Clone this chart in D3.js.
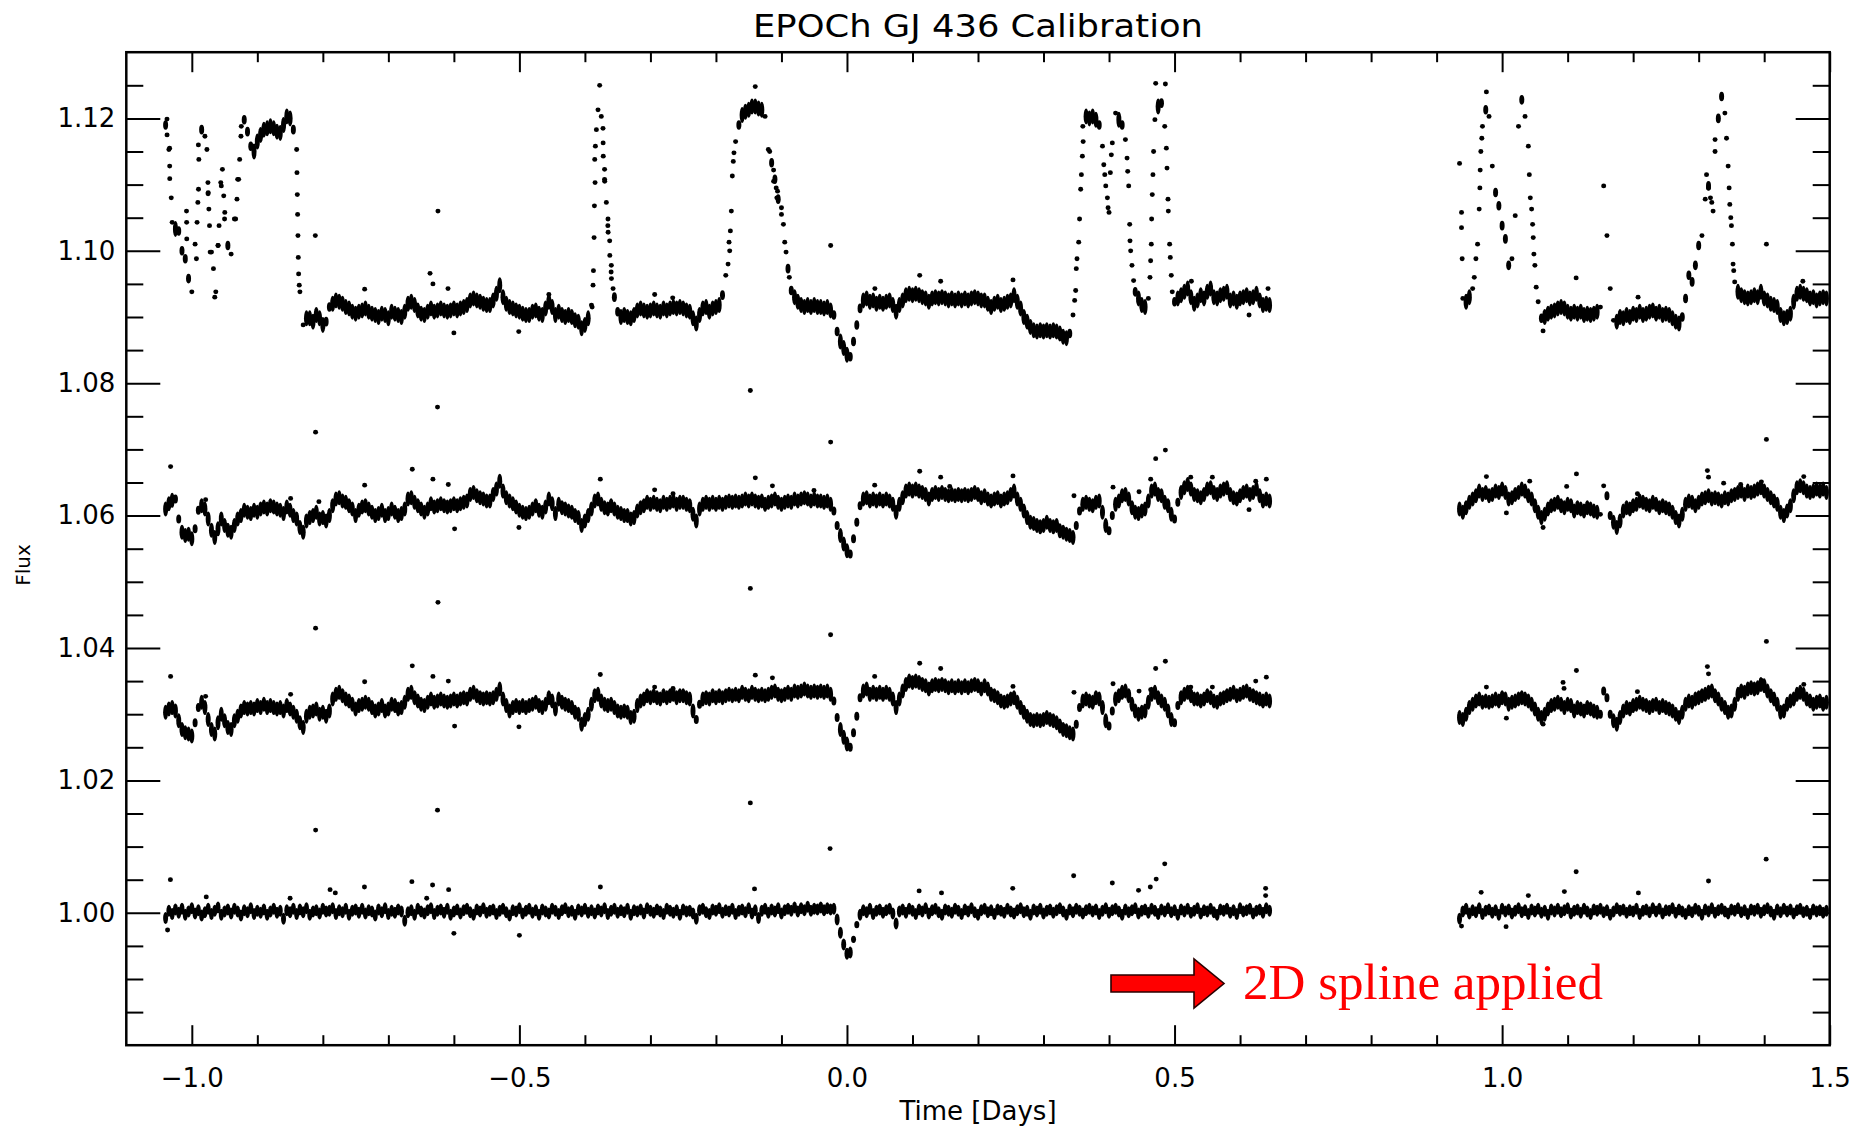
<!DOCTYPE html>
<html>
<head>
<meta charset="utf-8">
<script src="https://cdn.jsdelivr.net/npm/d3@7"></script>
<style>
  body { margin: 0; background: #fff; }
</style>
</head>
<body>
<div id="chart"></div>
<script>
// Light curves sampled every 0.005 d in two observing windows.
// Values are flux offsets in units of 1e-4 from each curve's baseline.
const step = 0.005;
const win1Start = -1.04;
const win2Start = 0.935;

const base1 = 1.09, base2 = 1.06, base3 = 1.03, base4 = 1.00;

// raw photometry (top curve)
const s1a = [
  290, 253, 143, 133, 130, 100, 88, 58, 38, 110,
  260, 283, 273, 188, 98, 30, 108, 198, 148, 108,
  95, 148, 208, 273, 298, 280, 258, 250, 265, 275,
  283, 285, 288, 285, 280, 278, 290, 303, 300, 283,
  253, 38, -12, -2, -2, -7, 3, -2, -12, -7,
  15, 20, 25, 23, 20, 15, 13, 8, 5, 8,
  10, 13, 8, 5, 3, 0, 5, 3, -2, 8,
  5, 3, 0, 8, 20, 23, 18, 10, 5, 3,
  8, 13, 8, 10, 13, 10, 8, 10, 13, 10,
  13, 15, 18, 25, 28, 25, 23, 20, 18, 18,
  25, 35, 48, 30, 20, 15, 13, 10, 8, 5,
  3, 3, 8, 10, 5, 3, 13, 23, 15, 3,
  8, 3, 0, 3, 0, -5, -7, -17, -12, -2,
  18, 238, 313, 303, 208, 138, 68, 30, 8, 0,
  3, 0, -2, 3, 10, 13, 10, 8, 10, 13,
  10, 8, 13, 10, 13, 15, 13, 15, 13, 10,
  8, -2, -10, 3, 13, 15, 8, 13, 15, 18,
  33, 63, 113, 213, 265, 290, 305, 310, 313, 318,
  318, 315, 313, 303, 253, 233, 208, 178, 155, 113,
  73, 40, 30, 23, 18, 15, 18, 15, 18, 15,
  15, 13, 15, 10, 3, -22, -37, -47, -57, -60,
  -37, -12, 13, 25, 28, 23, 25, 20, 23, 20,
  23, 25, 18, 8, 18, 25, 33, 35, 33, 35,
  33, 30, 28, 23, 28, 30, 28, 30, 28, 25,
  28, 25, 28, 25, 28, 25, 28, 30, 28, 25,
  25, 20, 15, 20, 23, 18, 20, 23, 25, 33,
  23, 13, 0, -7, -15, -20, -22, -20, -22, -20,
  -22, -20, -22, -25, -30, -32, -25, 3, 73, 148,
  288, 303, 300, 303, 298, 290, 258, 198, 158, 263,
  308, 298, 290, 268, 198, 78, 38, 28, 18, 15,
  28, 148, 298, 318, 323, 288, 178, 63, 23, 28,
  33, 38, 43, 30, 20, 25, 33, 28, 38, 43,
  30, 28, 33, 35, 38, 25, 28, 23, 28, 30,
  33, 28, 30, 35, 25, 18, 20, 18
];
const s1b = [
  232, 28, 23, 30, 43, 88, 163, 288, 313, 303,
  228, 188, 168, 138, 118, 78, 88, 153, 288, 328,
  303, 258, 163, 78, 23, -2, 0, 5, 8, 10,
  13, 15, 13, 8, 5, 8, 5, 8, 3, 5,
  3, 5, 8, 15, 198, 123, 43, -5, -7, 0,
  -2, 3, 0, 5, 3, 8, 3, 5, 8, 10,
  5, 8, 3, 5, 3, -2, -7, -10, 0, 28,
  63, 53, 78, 108, 123, 178, 198, 173, 268, 300,
  333, 308, 228, 138, 53, 38, 33, 30, 28, 30,
  33, 30, 38, 28, 25, 20, 18, 15, 3, -2,
  0, 5, 23, 35, 38, 35, 33, 28, 30, 25,
  28, 30, 28
];
// extra points of the top curve: outliers and fast excursions, [time, offset]
const out1 = [
  [-0.8115, 123], [-0.6243, 160], [-0.6364, 66], [-0.632, 50], [-0.609, 43], [-0.7362, 42],
  [-0.6, -24], [-0.501, -22], [-0.455, 34], [-0.3775, 350], [-0.0249, 108], [-0.14, 348],
  [-0.2935, 34], [-0.266, 29], [0.111, 63], [0.143, 54], [0.0426, 43], [0.2534, 56],
  [0.4712, 353], [0.486, 352], [0.6427, 43], [0.6137, 3], [0.5257, 54],
  [0.938, 158], [0.938, 135], [0.939, 88], [0.976, 340], [1.113, 59], [1.4034, 110],
  [1.459, 54], [1.0625, -21], [1.2075, 30],
  [-1.0379, 299], [-1.0378, 275], [-1.0339, 255], [-1.0338, 228], [-1.0337, 209], [-1.0314, 180],
  [-1.0081, 160], [-1.0079, 143], [-1.0077, 118], [-0.993, 88], [-0.992, 143], [-0.9908, 173],
  [-0.9898, 193], [-0.9893, 238], [-0.977, 253], [-0.9754, 203], [-0.9752, 186], [-0.974, 163],
  [-0.973, 138], [-0.972, 98], [-0.967, 73], [-0.9634, 38], [-0.9599, 108], [-0.9584, 138],
  [-0.9558, 203], [-0.9533, 223], [-0.9513, 183], [-0.9497, 158], [-0.9331, 148], [-0.9311, 178],
  [-0.9285, 208], [-0.927, 238], [-0.9245, 288],
  [-0.8395, 218], [-0.839, 185], [-0.8385, 155], [-0.838, 123], [-0.8375, 90], [-0.837, 65], [-0.836, 48],
  [-0.389, 15], [-0.3876, 48], [-0.387, 70], [-0.386, 120], [-0.3855, 168], [-0.3845, 203],
  [-0.384, 258], [-0.3825, 283], [-0.3724, 285], [-0.3722, 263], [-0.372, 243], [-0.37, 223],
  [-0.3698, 205], [-0.3673, 173], [-0.3648, 148], [-0.3646, 128], [-0.3622, 115], [-0.362, 93],
  [-0.3597, 78], [-0.3595, 58], [-0.357, 43],
  [-0.1815, 80], [-0.179, 100], [-0.178, 130], [-0.1765, 160], [-0.1735, 235], [-0.1725, 248],
  [-0.118, 250], [-0.112, 222], [-0.108, 195], [-0.106, 190], [-0.1, 165], [-0.097, 140],
  [-0.093, 98], [-0.088, 60], [-0.112, 205], [-0.107, 180],
  [0.3475, 25], [0.3491, 40], [0.3511, 88], [0.3537, 113], [0.3567, 193], [0.3578, 215],
  [0.3593, 243], [0.3605, 265], [0.392, 230], [0.3935, 215], [0.3975, 180], [0.3985, 165],
  [0.402, 218], [0.4035, 245], [0.4275, 240], [0.4285, 220], [0.4315, 140], [0.432, 115],
  [0.433, 100], [0.4375, 55], [0.4625, 60], [0.4635, 85], [0.4645, 110], [0.466, 185],
  [0.467, 215], [0.468, 250], [0.4875, 255], [0.4885, 225], [0.4905, 160], [0.4925, 110],
  [0.4935, 90], [0.4965, 38],
  [0.9575, 60], [0.9625, 110], [0.966, 195], [0.9665, 222], [0.9675, 250], [0.969, 270],
  [1.0415, 215], [1.043, 180], [1.0465, 140], [1.0475, 120], [1.0485, 95], [1.052, 45],
  [1.312, 215], [1.315, 195], [1.318, 180], [1.322, 160], [1.325, 250],
  [1.3425, 270], [1.3465, 195], [1.3475, 170], [1.349, 150], [1.3515, 110], [1.3525, 80], [1.3535, 70]
];

// second curve
const s2a = [
  10, 18, 23, 25, -5, -25, -30, -28, -35, -20,
  8, 15, 10, -5, -22, -33, -20, -5, -15, -22,
  -25, -15, -5, 0, 8, 5, 3, 8, 5, 10,
  13, 10, 15, 13, 10, 8, 3, 13, 8, 0,
  -5, -18, -25, -8, -3, 0, 5, -5, -3, -8,
  0, 15, 25, 27, 22, 20, 15, 10, 0, 8,
  13, 15, 10, 5, 0, 3, 8, 0, 3, 10,
  5, 0, 3, 10, 25, 27, 20, 15, 10, 5,
  10, 18, 13, 15, 18, 15, 13, 15, 18, 15,
  18, 20, 22, 32, 35, 30, 27, 25, 22, 22,
  32, 40, 52, 37, 27, 22, 18, 13, 8, 5,
  3, 5, 10, 15, 8, 5, 13, 25, 18, 3,
  17, 12, 10, 7, 5, 0, -3, -15, -8, 0,
  10, 22, 25, 17, 12, 10, 15, 10, 5, 3,
  0, 0, -5, -3, 7, 12, 15, 20, 17, 20,
  17, 15, 20, 17, 20, 22, 17, 20, 20, 17,
  15, 2, -8, 10, 17, 20, 17, 20, 17, 20,
  17, 20, 22, 20, 22, 20, 22, 25, 22, 25,
  22, 20, 22, 17, 20, 22, 25, 20, 17, 20,
  22, 20, 25, 22, 25, 27, 25, 22, 25, 22,
  22, 20, 22, 17, 7, -15, -30, -43, -53, -58,
  -35, -10, 15, 25, 27, 22, 25, 22, 25, 22,
  25, 22, 17, 5, 17, 27, 37, 40, 37, 40,
  37, 35, 32, 25, 32, 35, 32, 35, 32, 30,
  32, 30, 32, 30, 32, 30, 32, 35, 32, 27,
  30, 25, 22, 25, 27, 22, 25, 27, 32, 37,
  25, 17, 7, -3, -10, -12, -15, -17, -15, -10,
  -15, -17, -15, -23, -25, -28, -30, -33, -15, 7,
  17, 20, 17, 15, 20, 22, 5, -15, -23, 0,
  17, 22, 30, 32, 25, 12, 5, 3, 7, 10,
  22, 37, 40, 32, 30, 20, 15, 2, -5, 20,
  35, 42, 47, 40, 32, 30, 27, 32, 40, 42,
  35, 32, 37, 40, 42, 32, 27, 25, 30, 35,
  37, 32, 35, 40, 30, 22, 25, 22
];
const s2b = [
  10, 5, 12, 20, 25, 30, 37, 32, 35, 30,
  32, 37, 35, 40, 35, 25, 27, 32, 35, 40,
  37, 30, 25, 15, 5, -3, 2, 10, 15, 17,
  20, 15, 12, 17, 15, 7, 12, 10, 7, 12,
  10, 7, 5, 2, 45, 30, 0, -10, -18, -8,
  7, 12, 10, 15, 17, 22, 20, 17, 15, 20,
  17, 12, 15, 12, 10, 5, -3, -8, 2, 17,
  22, 20, 15, 20, 25, 27, 30, 25, 27, 25,
  22, 27, 25, 30, 32, 35, 37, 32, 37, 35,
  37, 40, 42, 37, 32, 27, 22, 17, 5, 0,
  7, 15, 30, 42, 45, 42, 37, 35, 37, 40,
  37, 40, 35
];
const out2 = [
  [-1.0324, 74], [-0.8111, 126], [-0.9789, 24], [-0.8492, 26], [-0.806, 21], [-0.7362, 46],
  [-0.6635, 70], [-0.632, 55], [-0.6085, 47], [-0.5989, -20], [-0.5007, -18], [-0.625, 164],
  [-0.0249, 111], [-0.3765, 55], [-0.1399, 57], [-0.2936, 39], [-0.2655, 33], [-0.1138, 45],
  [-0.0504, 38], [0.111, 67], [0.143, 58], [0.0423, 46], [0.1568, 44], [-0.1475, 189],
  [0.486, 99], [0.4712, 86], [0.2534, 60], [0.3465, 30], [0.4061, 43], [0.4636, 55],
  [0.4458, 36], [0.5247, 58], [0.5577, 58], [0.6239, 52], [0.6401, 55], [0.6137, 9],
  [1.4034, 115], [1.1134, 63], [1.3133, 68], [1.315, 58], [0.976, 59], [1.0421, 52],
  [1.0985, 44], [1.4604, 59], [1.0065, 4], [1.0625, -18], [1.3381, 49], [1.3641, 47],
  [1.3957, 51], [1.2065, 33]
];

// third curve
const s3a = [
  3, 8, 10, 5, -10, -23, -28, -30, -33, -13,
  10, 18, 10, -8, -23, -30, -13, 0, -10, -20,
  -23, -10, -3, 5, 10, 8, 10, 8, 13, 10,
  15, 10, 13, 10, 8, 10, 5, 13, 8, 3,
  -3, -13, -20, -3, 3, 5, 8, 0, 3, -3,
  5, 23, 30, 33, 28, 23, 20, 15, 8, 13,
  15, 18, 15, 10, 5, 8, 13, 5, 8, 15,
  13, 8, 10, 18, 30, 33, 25, 20, 15, 13,
  18, 23, 18, 20, 23, 20, 18, 20, 23, 20,
  23, 25, 23, 30, 33, 28, 25, 23, 25, 23,
  25, 30, 38, 23, 13, 5, 10, 13, 10, 13,
  10, 13, 15, 18, 13, 10, 15, 25, 20, 8,
  23, 18, 15, 13, 10, 3, 0, -15, -8, 0,
  15, 28, 30, 20, 15, 13, 15, 10, 5, 3,
  5, 3, -5, -3, 13, 20, 23, 28, 25, 28,
  25, 23, 28, 25, 28, 30, 25, 28, 28, 25,
  23, 5, -8, 15, 23, 25, 23, 28, 25, 28,
  25, 28, 30, 28, 30, 28, 33, 30, 28, 33,
  30, 28, 30, 28, 30, 33, 35, 30, 28, 30,
  33, 30, 35, 33, 35, 38, 35, 33, 35, 33,
  35, 33, 35, 30, 20, -5, -23, -35, -45, -50,
  -28, -3, 25, 35, 38, 30, 33, 30, 33, 30,
  33, 30, 23, 10, 23, 35, 45, 50, 48, 50,
  48, 45, 43, 38, 43, 45, 43, 45, 43, 40,
  43, 40, 43, 40, 43, 40, 43, 45, 43, 38,
  43, 38, 30, 28, 25, 20, 18, 20, 23, 25,
  18, 10, 3, -3, -8, -10, -8, -10, -8, -5,
  -8, -10, -13, -18, -23, -25, -28, -30, -15, 10,
  20, 23, 20, 18, 25, 23, 10, -10, -18, 5,
  23, 28, 33, 35, 28, 15, 5, 0, 3, 5,
  18, 30, 33, 25, 20, 15, 5, -8, -13, 13,
  25, 30, 33, 28, 23, 23, 20, 23, 28, 25,
  20, 18, 23, 25, 28, 30, 33, 28, 30, 33,
  35, 30, 28, 25, 23, 20, 23, 20
];
const s3b = [
  -5, -8, 0, 10, 15, 20, 23, 18, 20, 18,
  20, 23, 20, 25, 23, 15, 18, 20, 23, 25,
  23, 20, 15, 8, 0, -5, 0, 8, 13, 15,
  18, 15, 10, 15, 13, 5, 10, 8, 5, 10,
  8, 5, 3, 0, 35, 25, 0, -10, -15, -5,
  5, 10, 8, 13, 15, 18, 15, 13, 10, 13,
  15, 10, 13, 10, 8, 5, 0, -5, 3, 15,
  20, 18, 23, 25, 28, 30, 33, 35, 28, 23,
  15, 10, 3, 5, 15, 30, 35, 33, 38, 40,
  38, 40, 45, 43, 35, 28, 23, 15, 3, 5,
  15, 20, 23, 30, 33, 30, 23, 20, 15, 18,
  20, 15, 18
];
const out3 = [
  [-1.0324, 57], [-0.979, 27], [-0.8492, 30], [-0.7362, 49], [-0.6635, 73], [-0.632, 57],
  [-0.6085, 50], [-0.5989, -18], [-0.5007, -19], [-0.6243, 169], [-0.8111, 130], [-0.025, 120],
  [-0.3765, 60], [-0.1399, 59], [-0.2936, 41], [-0.2655, 39], [-0.1138, 55], [0.111, 77],
  [0.143, 69], [0.0423, 57], [-0.1475, 190], [0.486, 80], [0.4712, 69], [0.2534, 42],
  [0.3465, 33], [0.4061, 46], [0.4636, 37], [0.4458, 35], [0.5247, 41], [0.5577, 41],
  [0.6239, 50], [0.6401, 56], [1.4034, 110], [1.1134, 66], [1.3133, 72], [1.315, 61],
  [0.976, 41], [1.093, 48], [1.0945, 39], [1.4604, 45], [1.0065, -6], [1.0625, -15],
  [1.3957, 51], [1.2065, 34]
];

// bottom curve, after the 2D spline correction
const s4a = [
  -8, 3, -2, 5, 0, 6, -3, 2, 7, -1,
  4, -4, 1, 6, -2, 3, 8, -3, 2, 5,
  -1, 6, 2, -4, 4, 1, 7, -2, 3, 0,
  5, -3, 2, 6, 0, 3, -9, 4, 1, 6,
  -2, 5, 1, 7, -3, 2, 4, -1, 6, 2,
  3, 7, -2, 4, 1, 6, -3, 3, 5, 0,
  6, -1, 4, 2, -4, 5, 1, 7, -2, 3,
  0, 5, 2, -12, 1, 4, -3, 6, 2, -1,
  4, 7, -2, 3, 5, 0, 6, -3, 2, 5,
  -1, 4, 6, 1, -3, 5, 2, 7, 0, 3,
  5, -2, 3, 6, 1, -4, 4, 2, 7, -1,
  3, 6, 0, 4, -3, 5, 2, -1, 6, 3,
  -2, 4, 7, 1, 3, -3, 5, 2, 6, 0,
  4, -1, 5, 2, 7, -2, 3, 6, 0, 4,
  1, 6, -3, 4, 2, 5, -1, 7, 3, 0,
  5, 2, -2, 6, 3, 0, 4, -3, 5, 2,
  3, -1, -9, 4, 6, 1, -2, 5, 3, 7,
  0, 4, 2, 6, -2, 3, 5, 1, 7, -1,
  4, -8, 3, 6, 0, 5, 2, 7, -1, 4,
  6, 3, 8, 2, 7, 4, 9, 3, 6, 5,
  8, 4, 7, 5, 6, -10, -30, -48, -62, -60,
  -40, -18, -3, 4, 1, 6, -2, 3, 5, 0,
  4, 6, -1, -16, 2, 5, 0, 6, 3, -2,
  5, 2, 7, -1, 4, 6, 1, -3, 5, 3,
  0, 6, 3, -2, 5, 2, 7, 1, -3, 4,
  6, 1, 4, -2, 5, 3, 0, 6, 2, -1,
  4, 7, 1, 3, -3, 5, 2, 6, -1, 3,
  5, 0, 4, 7, 2, -3, 5, 1, 6, 3,
  -1, 4, 6, 2, 5, -2, 3, 7, 0, 4,
  6, 2, -3, 5, 1, 4, 7, -1, 3, 5,
  0, 6, 3, -2, 5, 2, 7, 1, 4, -3,
  5, 2, 6, 0, 3, 7, -1, 4, 2, 6,
  1, -3, 5, 3, 6, 0, 4, -2, 7, 2,
  4, 6, -1, 3, 5, 0, 7, 3
];
const s4b = [
  -9, 2, 6, -1, 4, 1, 7, -2, 3, 5,
  0, 4, -3, 6, 2, 5, -1, 3, 7, 1,
  4, -2, 5, 2, 6, 0, 3, -3, 5, 2,
  6, 1, 4, 7, -1, 3, 5, 0, 6, 2,
  -2, 5, 3, 6, 1, 4, -3, 2, 7, 3,
  5, 0, 4, 2, 6, -2, 3, 5, 1, 7,
  2, 6, -1, 4, 3, 7, 0, 5, 2, -2,
  4, 1, 6, 3, -3, 5, 2, 7, 0, 4,
  6, 2, -1, 5, 3, 7, 1, 4, -2, 5,
  3, 6, 0, 4, 7, 2, -3, 5, 1, 6,
  2, 5, -1, 4, 6, 1, 3, -2, 5, 2,
  4, 0, 3
];
const out4 = [
  [-1.0327, 50], [-1.037, -26], [-0.978, 24], [-0.85, 22], [-0.789, 35], [-0.781, 30],
  [-0.7365, 39], [-0.6641, 47], [-0.6325, 42], [-0.608, 35], [-0.6, -31], [-0.5, -34],
  [-0.3764, 39], [-0.1411, 36], [-0.0258, 97], [0.1101, 33], [-0.6415, 22], [0.1443, 30],
  [0.253, 37], [0.346, 56], [0.405, 45], [0.445, 34], [0.463, 39], [0.472, 51],
  [0.485, 74], [0.639, 37], [0.639, 26], [1.113, 62], [1.315, 48], [1.403, 81],
  [0.968, 31], [1.04, 26], [1.095, 32], [1.208, 30], [1.006, -21], [0.938, -20],
  [-0.625, 155], [-0.811, 125], [-0.1475, 166]
];

// axis ticks
const xMajor = [-1.0, -0.5, 0.0, 0.5, 1.0, 1.5];
const xMinor = d3.range(-10, 15).filter(i => i % 5 !== 0).map(i => i / 10);
const yMajor = [1.00, 1.02, 1.04, 1.06, 1.08, 1.10, 1.12];
const yMinor = d3.range(197, 226).filter(i => i % 4 !== 0).map(i => i / 200);

const width = 1854, height = 1129;
const plot = { left: 126.3, right: 1829.7, top: 52.2, bottom: 1045.2 };
const font = "'DejaVu Sans', sans-serif";

const svg = d3.select("#chart").append("svg")
  .attr("width", width)
  .attr("height", height)
  .style("display", "block")
  .style("background", "#fff");

const x = d3.scaleLinear().domain([-1.1, 1.5]).range([plot.left, plot.right]);
const y = d3.scaleLinear().domain([0.98, 1.13]).range([plot.bottom, plot.top]);

// grid samples: marker height shows the point scatter on flat stretches,
// steep stretches get plain dots
function gridPoints(offsets, start, base, spread) {
  return offsets.map((d, i) => {
    const prev = i > 0 ? offsets[i - 1] : d;
    const next = i < offsets.length - 1 ? offsets[i + 1] : d;
    const jump = Math.max(Math.abs(d - prev), Math.abs(d - next));
    const ry = jump > 40 ? 2.4 : jump > 20 ? Math.max(2.4, spread * 0.6) : spread;
    return { t: start + i * step, v: base + d * 1e-4, ry };
  });
}
function pairPoints(pairs, base) {
  return pairs.map(([t, d]) => ({ t, v: base + d * 1e-4, ry: 2.4 }));
}

const curves = [
  { base: base1, a: s1a, b: s1b, extra: out1, spread: 8 },
  { base: base2, a: s2a, b: s2b, extra: out2, spread: 7.5 },
  { base: base3, a: s3a, b: s3b, extra: out3, spread: 7.5 },
  { base: base4, a: s4a, b: s4b, extra: out4, spread: 6 }
];

const points = curves.flatMap(c => [
  ...gridPoints(c.a, win1Start, c.base, c.spread),
  ...gridPoints(c.b, win2Start, c.base, c.spread),
  ...pairPoints(c.extra, c.base)
]);

svg.append("g")
  .attr("class", "points")
  .selectAll("ellipse")
  .data(points)
  .join("ellipse")
  .attr("cx", d => x(d.t))
  .attr("cy", d => y(d.v))
  .attr("rx", 2.5)
  .attr("ry", d => d.ry)
  .attr("fill", "#000");

// axes, all ticks pointing into the plot
function styleAxis(g) {
  g.select(".domain").remove();
  g.selectAll(".tick line").attr("stroke", "#000").attr("stroke-width", 2);
  g.selectAll(".tick text")
    .attr("fill", "#000")
    .attr("font-family", font)
    .attr("font-size", 26);
}

svg.append("g")
  .attr("transform", `translate(0,${plot.bottom})`)
  .call(d3.axisBottom(x).tickValues(xMajor).tickSize(-20).tickPadding(23).tickFormat(d3.format(".1f")))
  .call(styleAxis);
svg.append("g")
  .attr("transform", `translate(0,${plot.bottom})`)
  .call(d3.axisBottom(x).tickValues(xMinor).tickSize(-10).tickFormat(""))
  .call(styleAxis);
svg.append("g")
  .attr("transform", `translate(0,${plot.top})`)
  .call(d3.axisTop(x).tickValues(xMajor).tickSize(-20).tickFormat(""))
  .call(styleAxis);
svg.append("g")
  .attr("transform", `translate(0,${plot.top})`)
  .call(d3.axisTop(x).tickValues(xMinor).tickSize(-10).tickFormat(""))
  .call(styleAxis);

svg.append("g")
  .attr("transform", `translate(${plot.left},0)`)
  .call(d3.axisLeft(y).tickValues(yMajor).tickSize(-34).tickPadding(11).tickFormat(d3.format(".2f")))
  .call(styleAxis);
svg.append("g")
  .attr("transform", `translate(${plot.left},0)`)
  .call(d3.axisLeft(y).tickValues(yMinor).tickSize(-17).tickFormat(""))
  .call(styleAxis);
svg.append("g")
  .attr("transform", `translate(${plot.right},0)`)
  .call(d3.axisRight(y).tickValues(yMajor).tickSize(-34).tickFormat(""))
  .call(styleAxis);
svg.append("g")
  .attr("transform", `translate(${plot.right},0)`)
  .call(d3.axisRight(y).tickValues(yMinor).tickSize(-17).tickFormat(""))
  .call(styleAxis);

svg.append("rect")
  .attr("x", plot.left)
  .attr("y", plot.top)
  .attr("width", plot.right - plot.left)
  .attr("height", plot.bottom - plot.top)
  .attr("fill", "none")
  .attr("stroke", "#000")
  .attr("stroke-width", 2.5);

// titles
svg.append("text")
  .attr("x", (plot.left + plot.right) / 2)
  .attr("y", 37)
  .attr("text-anchor", "middle")
  .attr("font-family", font)
  .attr("font-size", 32)
  .attr("textLength", 450)
  .attr("lengthAdjust", "spacingAndGlyphs")
  .text("EPOCh GJ 436 Calibration");

svg.append("text")
  .attr("x", (plot.left + plot.right) / 2)
  .attr("y", 1120)
  .attr("text-anchor", "middle")
  .attr("font-family", font)
  .attr("font-size", 26)
  .text("Time [Days]");

svg.append("text")
  .attr("transform", "translate(30,565) rotate(-90)")
  .attr("text-anchor", "middle")
  .attr("font-family", font)
  .attr("font-size", 20)
  .text("Flux");

// annotation
const arrow = [[1111, 975], [1194, 975], [1194, 959], [1224, 983.5], [1194, 1008], [1194, 992], [1111, 992]];
svg.append("polygon")
  .attr("points", arrow.map(p => p.join(",")).join(" "))
  .attr("fill", "#ff0000")
  .attr("stroke", "#2a0000")
  .attr("stroke-width", 1.6);

svg.append("text")
  .attr("x", 1243)
  .attr("y", 999)
  .attr("font-family", "'Liberation Serif', 'DejaVu Serif', serif")
  .attr("font-size", 50)
  .attr("fill", "#ff0000")
  .attr("textLength", 360)
  .attr("lengthAdjust", "spacingAndGlyphs")
  .text("2D spline applied");
</script>
</body>
</html>
